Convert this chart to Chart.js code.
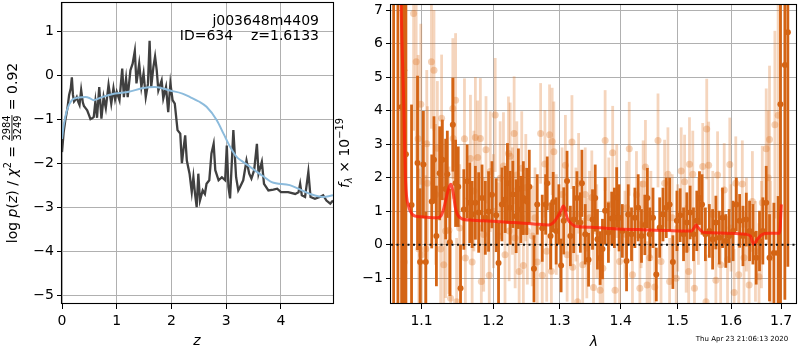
<!DOCTYPE html>
<html>
<head>
<meta charset="utf-8">
<script src="https://cdn.jsdelivr.net/npm/chart.js@4.4.1/dist/chart.umd.min.js"></script>
<style>
  body { margin: 0; background: #fff; width: 800px; height: 350px; overflow: hidden; position: relative; }
  canvas { position: absolute; top: 0; }
  #pz { left: 0; }
  #spec { left: 335px; }
</style>
</head>
<body>
<canvas id="pz" width="340" height="350"></canvas>
<canvas id="spec" width="465" height="350"></canvas>
<script>
// ---- left panel: log p(z) ----
const zGrid = [0.00, 0.03, 0.06, 0.10, 0.13, 0.16, 0.18, 0.20, 0.22, 0.25, 0.27, 0.30, 0.32, 0.35, 0.38, 0.40,
  0.43, 0.46, 0.49, 0.52, 0.55, 0.58, 0.61, 0.64, 0.68, 0.72, 0.76, 0.80, 0.85, 0.90, 0.94, 0.97, 1.00, 1.05,
  1.10, 1.13, 1.17, 1.20, 1.25, 1.29, 1.33, 1.36, 1.41, 1.45, 1.49, 1.53, 1.57, 1.60, 1.63, 1.67, 1.70, 1.73,
  1.76, 1.82, 1.85, 1.90, 1.94, 1.98, 2.02, 2.06, 2.11, 2.16, 2.19, 2.22, 2.25, 2.28, 2.33, 2.37, 2.40, 2.43,
  2.46, 2.49, 2.52, 2.57, 2.61, 2.64, 2.69, 2.73, 2.77, 2.80, 2.86, 2.92, 2.98, 3.01, 3.04, 3.07, 3.13, 3.18,
  3.22, 3.25, 3.31, 3.37, 3.42, 3.46, 3.51, 3.56, 3.59, 3.65, 3.69, 3.77, 3.86, 3.93, 4.00, 4.13, 4.26, 4.32,
  4.35, 4.38, 4.44, 4.50, 4.54, 4.62, 4.71, 4.77, 4.83, 4.90, 4.95];
const logPz = [-1.75, -1.30, -1.03, -0.75, -0.45, -0.30, -0.05, -0.45, -0.60, -0.55, -0.50, -0.62, -0.68, -0.34, -0.62, -0.70,
  -0.75, -0.80, -0.90, -1.00, -0.98, -0.95, -0.60, -0.97, -0.27, -0.99, -0.50, -0.75, -0.22, -0.65, -0.30, -0.55, -0.38, -0.57,
  0.15, -0.50, -0.08, -0.50, 0.11, 0.26, 0.55, -0.19, 0.26, -0.27, 0.04, -0.50, -0.20, 0.78, -0.27, 0.19, 0.42, 0.11,
  -0.35, -0.12, -0.53, -0.27, -0.84, -0.19, -0.57, -0.65, -1.25, -1.33, -2.00, -1.67, -1.37, -1.94, -2.24, -2.66, -2.32, -2.70,
  -3.00, -2.24, -2.85, -2.62, -2.70, -2.47, -2.39, -1.78, -1.56, -2.16, -2.39, -2.32, -2.39, -1.60, -2.54, -2.80, -1.25, -2.32,
  -2.62, -2.55, -2.39, -1.94, -2.24, -2.35, -2.16, -1.56, -2.24, -1.97, -2.47, -2.62, -2.60, -2.58, -2.66, -2.66, -2.70, -2.66,
  -2.47, -2.73, -2.77, -2.20, -2.77, -2.81, -2.77, -2.73, -2.85, -2.92, -2.85];
const zFit = [0.00, 0.03, 0.09, 0.18, 0.30, 0.43, 0.50, 0.58, 0.73, 0.97, 1.22, 1.46, 1.70, 1.97, 2.20, 2.34,
  2.50, 2.64, 2.83, 2.95, 3.07, 3.19, 3.28, 3.40, 3.56, 3.70, 3.83, 4.16, 4.53, 4.77, 4.95];
const logPzFit = [-1.45, -1.15, -0.80, -0.57, -0.51, -0.50, -0.52, -0.57, -0.50, -0.42, -0.38, -0.30, -0.27, -0.35, -0.42, -0.50,
  -0.60, -0.72, -1.03, -1.33, -1.63, -1.86, -1.95, -2.05, -2.20, -2.32, -2.43, -2.50, -2.70, -2.77, -2.73];
const pzTicksX = [0, 1, 2, 3, 4];
const pzTicksY = [-5, -4, -3, -2, -1, 0, 1];

// ---- right panel: spectrum ----
const darkLam = [1.0635, 1.0690, 1.0738, 1.0772, 1.0794, 1.0868, 1.0947, 1.0981, 1.1025, 1.1057, 1.1137, 1.1167, 1.1200,
  1.1244, 1.1281, 1.1326, 1.1349, 1.1384, 1.1425, 1.1463, 1.1500, 1.1532, 1.1578, 1.1625, 1.1661, 1.1695, 1.1741,
  1.1788, 1.1836, 1.1883, 1.1930, 1.1979, 1.2041, 1.2075, 1.2124, 1.2172, 1.2206, 1.2246, 1.2286, 1.2335, 1.2369,
  1.2404, 1.2443, 1.2494, 1.2533, 1.2604, 1.2654, 1.2731, 1.2783, 1.2808, 1.2860, 1.2901, 1.2947, 1.2989, 1.3025,
  1.3067, 1.3119, 1.3172, 1.3225, 1.3277, 1.3332, 1.3357, 1.3411, 1.3465, 1.3530, 1.3574, 1.3611, 1.3655, 1.3694,
  1.3738, 1.3793, 1.3848, 1.3893, 1.3932, 1.3972, 1.4027, 1.4099, 1.4128, 1.4184, 1.4242, 1.4299, 1.4356, 1.4414,
  1.4459, 1.4501, 1.4558, 1.4616, 1.4676, 1.4734, 1.4793, 1.4853, 1.4912, 1.4985, 1.5044, 1.5106, 1.5166, 1.5227,
  1.5289, 1.5350, 1.5400, 1.5448, 1.5511, 1.5585, 1.5647, 1.5709, 1.5773, 1.5836, 1.5898, 1.5963, 1.6040, 1.6103,
  1.6167, 1.6233, 1.6298, 1.6363, 1.6430, 1.6495, 1.6561, 1.6628, 1.6696, 1.6763, 1.6852, 1.6939, 1.6986, 1.7077, 1.7139];
const darkFlux = [8.5, -3.0, 4.11, 5.20, 2.70, 1.18, 2.44, -0.52, 2.39, -0.52, 1.29, 2.53, 0.26,
  2.13, 2.53, 1.66, 2.10, 0.07, 3.58, 1.83, 1.73, -1.30, 1.05, 1.89, 1.25, 0.90, 1.25,
  0.96, 1.39, 0.80, 0.99, 1.49, 0.88, -0.55, 1.20, 1.35, 1.83, 1.10, 1.50, 0.85, 1.67,
  1.05, 1.39, 1.29, 1.73, -0.72, 1.20, 0.49, 1.20, 1.83, 0.26, 1.27, 0.41, 0.90, -0.62,
  0.71, 1.90, 0.26, 0.75, 1.39, 0.66, 1.83, 0.31, -0.45, 0.75, 1.39, 0.16, -0.40, -0.13,
  1.01, 0.36, 0.78, 0.80, 1.41, 0.80, 0.41, -0.49, 0.90, 0.31, 0.80, 1.10, 0.26, 0.59,
  1.39, 0.31, 0.80, -0.89, 0.51, 0.90, 1.10, 1.20, -0.52, 0.71, 0.88, 0.31, 0.66, 0.96,
  0.31, 0.71, 1.39, 1.20, 0.31, 0.41, 0.16, 0.66, 0.21, 0.80, 0.11, 0.26, 0.41, 1.20,
  0.71, 0.26, 0.75, 0.41, 0.31, -0.39, 0.11, 0.41, 1.25, -0.39, -0.25, -0.25, 4.19, 5.36, 6.34];
const darkErr = [12, 11, 8, 8, 7, 3.0, 2.6, 2.2, 1.6, 1.5, 1.4, 1.3, 1.5,
  1.4, 1.2, 1.5, 1.3, 1.6, 1.4, 1.3, 1.2, 1.3, 1.2, 1.1, 1.2, 1.0, 1.1,
  1.2, 1.0, 1.1, 1.2, 1.0, 1.1, 1.2, 1.1, 1.0, 1.2, 1.1, 1.0, 1.1, 1.2,
  1.0, 1.1, 1.0, 1.1, 1.0, 0.9, 1.0, 0.9, 0.8, 1.0, 0.9, 1.0, 0.9, 0.8,
  1.0, 0.9, 0.9, 1.0, 0.8, 0.9, 1.0, 0.9, 0.8, 0.9, 1.0, 0.9, 0.8, 0.9,
  1.0, 0.9, 0.8, 0.9, 0.9, 1.0, 0.8, 0.9, 0.9, 0.8, 0.9, 1.0, 0.8, 0.9,
  0.9, 0.8, 0.9, 0.8, 0.9, 0.8, 0.9, 0.8, 0.8, 0.9, 0.8, 0.8, 0.9, 0.8,
  0.8, 0.9, 0.8, 0.9, 0.8, 0.8, 0.9, 0.8, 0.8, 0.9, 0.8, 0.8, 0.9, 0.8,
  0.8, 0.9, 0.8, 0.9, 0.9, 0.8, 0.9, 1.0, 1.1, 1.3, 1.5, 1.7, 6, 7, 7];
const lightLam = [1.0772, 1.0895, 1.0929, 1.0955, 1.0964, 1.0990, 1.1000, 1.1057, 1.1070, 1.1079, 1.1133, 1.1167,
  1.1190, 1.1213, 1.1258, 1.1271, 1.1300, 1.1326, 1.1371, 1.1394, 1.1425, 1.1430, 1.1463, 1.1477, 1.1520, 1.1587,
  1.1600, 1.1671, 1.1695, 1.1720, 1.1741, 1.1774, 1.1812, 1.1826, 1.1860, 1.1893, 1.1940, 1.1954, 1.2000, 1.2026,
  1.2075, 1.2099, 1.2147, 1.2170, 1.2221, 1.2231, 1.2246, 1.2280, 1.2305, 1.2320, 1.2345, 1.2380, 1.2419, 1.2443,
  1.2480, 1.2503, 1.2578, 1.2620, 1.2654, 1.2706, 1.2731, 1.2772, 1.2800, 1.2844, 1.2873, 1.2885, 1.2911, 1.2950,
  1.3040, 1.3093, 1.3120, 1.3197, 1.3209, 1.3260, 1.3288, 1.3304, 1.3370, 1.3411, 1.3437, 1.3480, 1.3518, 1.3546,
  1.3600, 1.3655, 1.3700, 1.3738, 1.3800, 1.3864, 1.3904, 1.3932, 1.3980, 1.4072, 1.4100, 1.4145, 1.4200, 1.4269,
  1.4328, 1.4350, 1.4385, 1.4425, 1.4454, 1.4501, 1.4520, 1.4588, 1.4646, 1.4700, 1.4764, 1.4823, 1.4853, 1.4900,
  1.4973, 1.5000, 1.5063, 1.5125, 1.5154, 1.5200, 1.5215, 1.5276, 1.5307, 1.5380, 1.5461, 1.5523, 1.5536, 1.5572,
  1.5650, 1.5709, 1.5741, 1.5800, 1.5868, 1.5932, 1.5976, 1.6000, 1.6060, 1.6092, 1.6150, 1.6220, 1.6253, 1.6300,
  1.6354, 1.6419, 1.6480, 1.6551, 1.6600, 1.6617, 1.6696, 1.6736, 1.6763, 1.6783, 1.6872, 1.6939];
const lightFlux = [-0.52, 6.90, 5.46, 3.16, -0.13, 4.19, -0.30, -0.13, 3.01, 1.83, 5.46, 5.20,
  1.50, 2.88, -0.13, 3.77, -0.60, 0.41, 0.43, -1.60, 4.06, 3.17, 4.31, -1.70, 0.50, 3.16,
  -0.40, 2.57, -0.52, 1.60, 3.20, 2.60, 3.17, -1.10, 0.30, 2.83, -0.91, 2.18, 1.00, 3.87,
  0.26, 1.98, 2.35, -0.30, 2.72, 0.41, 2.64, 1.30, 3.32, 0.20, 2.08, -0.80, 2.28, -0.62,
  1.70, 0.41, 0.26, 0.80, -0.52, 3.32, -0.91, 2.41, -0.20, 3.28, -0.79, 3.08, 2.77, 0.60,
  1.50, 2.37, -0.30, 3.06, -0.67, 0.90, -1.70, 1.83, -0.60, 1.50, -0.10, 0.80, 1.41, -1.28,
  0.40, -1.36, -0.70, 3.11, 1.20, 2.74, -1.36, 1.60, -0.50, 0.31, 1.10, 2.86, -0.90, 1.49,
  -1.30, 0.60, 1.81, 2.32, -1.20, -0.39, 0.90, -1.26, 3.11, -0.50, 1.83, 2.10, -1.10, 0.80,
  -1.00, 0.50, 2.20, 1.88, -0.13, -0.80, 2.40, 2.10, -1.30, 0.70, 2.33, -1.70, 3.45, 2.37,
  0.90, -1.06, 2.08, -0.60, 1.63, -0.45, 2.39, 0.50, -1.43, 1.83, -0.90, 1.81, -0.39, 0.60,
  -1.20, 1.29, -0.20, -0.96, 0.30, 1.25, 2.86, 2.00, 3.14, -0.39, 3.58, 3.86];
const lightErr = [4.0, 3.5, 3.0, 2.5, 2.4, 2.4, 2.3, 2.2, 2.2, 2.3, 2.0, 1.8,
  2.1, 2.0, 2.1, 1.9, 2.0, 2.0, 1.9, 2.0, 2.1, 1.8, 2.0, 1.9, 1.9, 1.8,
  1.8, 1.9, 1.7, 1.8, 1.8, 1.7, 1.8, 1.7, 1.7, 1.6, 1.7, 1.8, 1.7, 1.7,
  1.6, 1.7, 1.6, 1.6, 1.7, 1.5, 1.6, 1.6, 1.7, 1.5, 1.6, 1.5, 1.7, 1.5,
  1.6, 1.6, 1.5, 1.5, 1.6, 1.5, 1.4, 1.6, 1.5, 1.5, 1.4, 1.6, 1.5, 1.5,
  1.4, 1.5, 1.4, 1.4, 1.5, 1.4, 1.4, 1.5, 1.4, 1.4, 1.5, 1.4, 1.4, 1.3,
  1.4, 1.4, 1.3, 1.5, 1.4, 1.4, 1.3, 1.4, 1.3, 1.3, 1.4, 1.4, 1.3, 1.3,
  1.4, 1.3, 1.3, 1.4, 1.3, 1.4, 1.3, 1.3, 1.4, 1.3, 1.3, 1.4, 1.3, 1.3,
  1.4, 1.3, 1.3, 1.4, 1.3, 1.3, 1.4, 1.3, 1.4, 1.3, 1.3, 1.4, 1.5, 1.3,
  1.3, 1.4, 1.3, 1.3, 1.4, 1.3, 1.4, 1.3, 1.3, 1.4, 1.3, 1.3, 1.4, 1.4,
  1.4, 1.5, 1.5, 1.6, 1.6, 1.7, 1.8, 2.0, 2.2, 2.3, 2.8, 3.5];
const modelLam = [1.0720, 1.0734, 1.0766, 1.0790, 1.0830, 1.0880, 1.0920, 1.1000, 1.1100, 1.1210,
  1.1260, 1.1290, 1.1330, 1.1370, 1.1400, 1.1430, 1.1460, 1.1490, 1.1530, 1.1580,
  1.1700, 1.1850, 1.2000, 1.2200, 1.2400, 1.2600, 1.2830, 1.2900, 1.2960, 1.3020,
  1.3060, 1.3080, 1.3120, 1.3170, 1.3250, 1.3500, 1.3750, 1.4020, 1.4300, 1.4600,
  1.4820, 1.5100, 1.5245, 1.5300, 1.5337, 1.5380, 1.5430, 1.5500, 1.5800, 1.6100,
  1.6284, 1.6380, 1.6444, 1.6517, 1.6617, 1.6750, 1.6966, 1.7006];
const modelFlux = [9.0, 6.9, 4.2, 1.88, 1.14, 0.90, 0.85, 0.83, 0.81, 0.80,
  0.85, 1.00, 1.35, 1.70, 1.80, 1.55, 1.10, 0.90, 0.80, 0.75,
  0.73, 0.71, 0.70, 0.67, 0.65, 0.62, 0.59, 0.65, 0.80, 1.00,
  1.15, 1.10, 0.80, 0.66, 0.55, 0.52, 0.49, 0.46, 0.45, 0.43,
  0.42, 0.41, 0.41, 0.50, 0.59, 0.50, 0.41, 0.36, 0.35, 0.33,
  0.31, 0.26, 0.01, 0.16, 0.31, 0.34, 0.34, 1.20];
const lamRange = [1.0601, 1.7309];
const specTicksX = [1.1, 1.2, 1.3, 1.4, 1.5, 1.6, 1.7];
const specTicksY = [-1, 0, 1, 2, 3, 4, 5, 6, 7];

const FONT = "'DejaVu Sans'";
const DARK = "rgb(212, 100, 20)";
const LIGHT = "rgba(222, 115, 35, 0.3)";

const pairs = (xs, ys) => xs.map((x, i) => ({ x: x, y: ys[i] }));
const fmt = (v) => String(v).replace("-", "\u2212");
const setTicks = (values) => (scale) => {
  scale.ticks = values.map((v) => ({ value: v }));
};
const fitY = (w) => (scale) => {
  scale.width = w;
  scale.paddingTop = 0; scale.paddingBottom = 0;
};
const fitX = (h) => (scale) => {
  scale.height = h;
  scale.paddingLeft = 0; scale.paddingRight = 0;
};

function richText(ctx, parts, cx, cy, rot) {
  ctx.save();
  ctx.translate(cx, cy);
  ctx.rotate(rot);
  ctx.textBaseline = "alphabetic";
  ctx.fillStyle = "#000";
  let total = 0;
  for (const p of parts) {
    if (p.num) {
      ctx.font = "9.8px " + FONT;
      p.w = Math.max(ctx.measureText(p.num).width, ctx.measureText(p.den).width) + 2;
    } else {
      ctx.font = (p.italic ? "italic " : "") + (p.size || 14) + "px " + FONT;
      p.w = ctx.measureText(p.t).width;
    }
    total += p.w;
  }
  let x = -total / 2;
  for (const p of parts) {
    if (p.num) {
      ctx.font = "9.8px " + FONT;
      ctx.textAlign = "center";
      ctx.fillText(p.num, x + p.w / 2, -6.5);
      ctx.fillText(p.den, x + p.w / 2, 4.5);
      ctx.fillRect(x + 0.5, -5, p.w - 1, 0.9);
      ctx.textAlign = "left";
    } else {
      ctx.font = (p.italic ? "italic " : "") + (p.size || 14) + "px " + FONT;
      ctx.textAlign = "left";
      ctx.fillText(p.t, x, p.dy || 0);
    }
    x += p.w;
  }
  ctx.restore();
}

function frame(chart) {
  const { ctx, chartArea: a } = chart;
  ctx.save();
  ctx.strokeStyle = "#000";
  ctx.lineWidth = 1.1;
  ctx.strokeRect(Math.round(a.left) - 0.5, Math.round(a.top) + 0.5,
    Math.round(a.right - a.left) + 1, Math.round(a.bottom - a.top) - 1);
  ctx.restore();
}

const errorBars = {
  id: "errorBars",
  beforeDatasetDraw(chart, args) {
    const ds = chart.data.datasets[args.index];
    if (!ds.yErr) return;
    const { ctx, chartArea: a, scales: { x, y } } = chart;
    ctx.save();
    ctx.beginPath();
    ctx.rect(a.left, a.top, a.right - a.left, a.bottom - a.top);
    ctx.clip();
    ctx.strokeStyle = ds.errColor;
    ctx.lineWidth = ds.errWidth;
    ds.data.forEach((p, i) => {
      const px = x.getPixelForValue(p.x);
      ctx.beginPath();
      ctx.moveTo(px, y.getPixelForValue(p.y - ds.yErr[i]));
      ctx.lineTo(px, y.getPixelForValue(p.y + ds.yErr[i]));
      ctx.stroke();
    });
    ctx.restore();
  },
};

const pzDecor = {
  id: "pzDecor",
  afterDraw(chart) {
    const ctx = chart.ctx;
    frame(chart);
    ctx.save();
    ctx.fillStyle = "#000";
    ctx.font = "14px " + FONT;
    ctx.textAlign = "right";
    ctx.textBaseline = "alphabetic";
    ctx.fillText("j003648m4409", 319, 25);
    ctx.fillText("ID=634    z=1.6133", 319, 40);
    ctx.font = "italic 14px " + FONT;
    ctx.textAlign = "center";
    ctx.fillText("z", 197, 345);
    ctx.restore();
    richText(ctx, [
      { t: "log " }, { t: "p", italic: true }, { t: "(" }, { t: "z", italic: true }, { t: ") / " },
      { t: "\u03c7", italic: true }, { t: "2", size: 9.8, dy: -6 }, { t: " = " },
      { num: "2984", den: "3249" }, { t: " = 0.92" },
    ], 16.5, 153, -Math.PI / 2);
  },
};

const specDecor = {
  id: "specDecor",
  afterDraw(chart) {
    const ctx = chart.ctx;
    frame(chart);
    ctx.save();
    ctx.fillStyle = "#000";
    ctx.font = "italic 14px " + FONT;
    ctx.textAlign = "center";
    ctx.textBaseline = "alphabetic";
    ctx.fillText("\u03bb", 259, 346);
    ctx.font = "7px " + FONT;
    ctx.fillText("Thu Apr 23 21:06:13 2020", 407, 341);
    ctx.restore();
    richText(ctx, [
      { t: "f", italic: true }, { t: "\u03bb", italic: true, size: 9.8, dy: 3 }, { t: " \u00d7 10" },
      { t: "\u221219", size: 9.8, dy: -6 },
    ], 13.5, 153, -Math.PI / 2);
  },
};

const tickFont = { family: FONT, size: 14 };
const gridOpts = { color: "#b0b0b0", lineWidth: 1, tickColor: "#000", tickLength: 5 };

new Chart(document.getElementById("pz"), {
  type: "scatter",
  data: {
    datasets: [
      {
        label: "fit",
        data: pairs(zFit, logPzFit),
        showLine: true,
        pointRadius: 0,
        borderColor: "#8cbbdc",
        borderWidth: 2,
        cubicInterpolationMode: "monotone",
        clip: 0,
        order: 0,
      },
      {
        label: "pz",
        data: pairs(zGrid, logPz),
        showLine: true,
        pointRadius: 0,
        borderColor: "#404040",
        borderWidth: 2.3,
        clip: 0,
        order: 1,
      },
    ],
  },
  options: {
    responsive: false,
    animation: false,
    devicePixelRatio: 1,
    events: [],
    layout: { padding: { top: 2, right: 7, left: 0, bottom: 0 } },
    plugins: { legend: { display: false }, tooltip: { enabled: false } },
    scales: {
      x: {
        type: "linear",
        min: 0,
        max: 4.95,
        afterBuildTicks: setTicks(pzTicksX),
        afterFit: fitX(46),
        grid: gridOpts,
        border: { display: false },
        ticks: { font: tickFont, color: "#000", padding: 4, callback: fmt, maxRotation: 0 },
      },
      y: {
        min: -5.2,
        max: 1.66,
        afterBuildTicks: setTicks(pzTicksY),
        afterFit: fitY(62),
        grid: gridOpts,
        border: { display: false },
        ticks: { font: tickFont, color: "#000", padding: 3, callback: fmt },
      },
    },
  },
  plugins: [pzDecor],
});

new Chart(document.getElementById("spec"), {
  type: "scatter",
  data: {
    datasets: [
      {
        label: "zero",
        data: pairs(lamRange, [0, 0]),
        showLine: true,
        pointRadius: 0,
        borderColor: "#111",
        borderWidth: 2,
        borderDash: [2, 3.5],
        clip: 0,
        order: 0,
      },
      {
        label: "model",
        data: pairs(modelLam, modelFlux),
        showLine: true,
        pointRadius: 0,
        borderColor: "rgba(255, 25, 10, 0.75)",
        borderWidth: 3,
        cubicInterpolationMode: "monotone",
        clip: 0,
        order: 1,
      },
      {
        label: "dark",
        data: pairs(darkLam, darkFlux),
        yErr: darkErr,
        errColor: DARK,
        errWidth: 2.8,
        pointRadius: 3,
        pointBorderWidth: 0,
        pointBackgroundColor: DARK,
        clip: 0,
        order: 2,
      },
      {
        label: "light",
        data: pairs(lightLam, lightFlux),
        yErr: lightErr,
        errColor: LIGHT,
        errWidth: 2.8,
        pointRadius: 3.5,
        pointBorderWidth: 0,
        pointBackgroundColor: "rgba(222, 115, 35, 0.32)",
        clip: 0,
        order: 3,
      },
    ],
  },
  options: {
    responsive: false,
    animation: false,
    devicePixelRatio: 1,
    events: [],
    layout: { padding: { top: 2, right: 1, left: 0, bottom: 0 } },
    plugins: { legend: { display: false }, tooltip: { enabled: false } },
    scales: {
      x: {
        type: "logarithmic",
        min: lamRange[0],
        max: lamRange[1],
        afterBuildTicks: setTicks(specTicksX),
        afterFit: fitX(46),
        grid: gridOpts,
        border: { display: false },
        ticks: { font: tickFont, color: "#000", padding: 4, maxRotation: 0, callback: (v) => Number(v).toFixed(1) },
      },
      y: {
        min: -1.77,
        max: 7.18,
        afterBuildTicks: setTicks(specTicksY),
        afterFit: fitY(56),
        grid: gridOpts,
        border: { display: false },
        ticks: { font: tickFont, color: "#000", padding: 3, callback: fmt },
      },
    },
  },
  plugins: [errorBars, specDecor],
});
</script>
</body>
</html>
